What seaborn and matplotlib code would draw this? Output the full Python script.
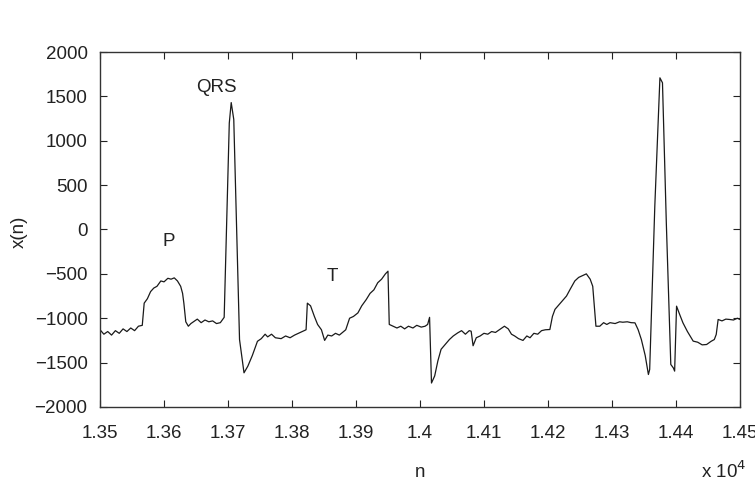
import matplotlib
matplotlib.use("Agg")
import matplotlib.pyplot as plt
import seaborn as sns
import pandas as pd

sns.set_theme(style="white")
plt.rcParams['font.family'] = ['Liberation Sans', 'DejaVu Sans']

# sample index n and signal value x(n)
n_vals = [13500, 13506, 13512, 13518, 13524, 13530, 13536, 13542, 13548, 13554, 13560, 13566,
          13569, 13574, 13579, 13584, 13589, 13595, 13600, 13606, 13611, 13616, 13621, 13626,
          13629, 13631, 13634, 13638, 13642, 13646, 13652, 13658, 13664, 13670, 13676, 13682,
          13688, 13694, 13702, 13705, 13709, 13718, 13725, 13731, 13738, 13746, 13752, 13758,
          13762, 13768, 13774, 13783, 13790, 13797, 13804, 13810, 13816, 13822, 13824, 13829,
          13835, 13840, 13846, 13851, 13856, 13862, 13868, 13874, 13879, 13884, 13890, 13896,
          13903, 13909, 13916, 13922, 13928, 13934, 13940, 13946, 13950, 13952, 13958, 13964,
          13970, 13976, 13982, 13989, 13995, 14002, 14008, 14012, 14015, 14018, 14023, 14028,
          14033, 14040, 14046, 14052, 14059, 14065, 14071, 14077, 14080, 14083, 14088, 14094,
          14100, 14106, 14112, 14118, 14124, 14132, 14138, 14143, 14148, 14154, 14161, 14167,
          14172, 14178, 14184, 14190, 14196, 14203, 14207, 14211, 14217, 14223, 14229, 14235,
          14242, 14248, 14254, 14260, 14266, 14270, 14275, 14281, 14287, 14292, 14297, 14305,
          14312, 14317, 14324, 14330, 14336, 14341, 14346, 14352, 14357, 14359, 14367, 14375,
          14379, 14385, 14392, 14396, 14398, 14401, 14406, 14411, 14418, 14427, 14434, 14441,
          14448, 14455, 14460, 14463, 14466, 14472, 14478, 14484, 14490, 14496, 14500]
x_vals = [-1130, -1180, -1150, -1190, -1140, -1170, -1120, -1150, -1110, -1140, -1090, -1080,
          -830, -780, -700, -660, -640, -580, -590, -550, -560, -545, -580, -640,
          -720, -830, -1040, -1090, -1060, -1040, -1010, -1050, -1020, -1040, -1030, -1060,
          -1050, -990, 1200, 1430, 1240, -1240, -1615, -1540, -1420, -1260, -1230, -1180,
          -1210, -1180, -1220, -1230, -1200, -1220, -1190, -1170, -1150, -1130, -830, -860,
          -980, -1070, -1130, -1250, -1190, -1200, -1170, -1190, -1160, -1130, -1000, -980,
          -940, -860, -790, -720, -680, -600, -560, -500, -470, -1070, -1090, -1110,
          -1090, -1120, -1090, -1110, -1080, -1100, -1090, -1070, -990, -1730, -1650, -1480,
          -1350, -1290, -1240, -1200, -1165, -1140, -1180, -1140, -1146, -1310, -1220, -1200,
          -1170, -1180, -1150, -1160, -1130, -1090, -1120, -1180, -1200, -1230, -1250, -1200,
          -1220, -1170, -1180, -1140, -1130, -1127, -980, -900, -850, -800, -750, -670,
          -580, -540, -520, -500, -560, -640, -1090, -1090, -1050, -1070, -1050, -1060,
          -1040, -1045, -1040, -1050, -1052, -1130, -1240, -1420, -1634, -1577, 260, 1709,
          1653, 75, -1521, -1560, -1596, -864, -960, -1052, -1150, -1258, -1270, -1300,
          -1296, -1260, -1240, -1183, -1014, -1030, -1010, -1014, -1020, -1000, -1014]

xtick_vals = [13500, 13600, 13700, 13800, 13900, 14000, 14100, 14200, 14300, 14400, 14500]
xtick_labels = ["1.35", "1.36", "1.37", "1.38", "1.39", "1.4", "1.41", "1.42", "1.43", "1.44", "1.45"]
ytick_vals = [-2000, -1500, -1000, -500, 0, 500, 1000, 1500, 2000]

wave_labels = ["P", "QRS", "T"]
wave_n = [13608, 13682, 13863]
wave_x = [-135, 1600, -530]

df = pd.DataFrame({"n": n_vals, "x": x_vals})

fig = plt.figure(figsize=(7.55, 4.86), dpi=100)
ax = fig.add_axes([0.1325, 0.1626, 0.8475, 0.7304])
sns.lineplot(data=df, x="n", y="x", sort=False, estimator=None, ax=ax,
             color="#1a1a1a", linewidth=0.9)

ax.set_xlim(13500, 14500)
ax.set_ylim(-2000, 2000)
ax.set_xticks(xtick_vals)
ax.set_xticklabels(xtick_labels)
ax.set_yticks(ytick_vals)
ax.set_yticklabels([str(v).replace("-", "\u2212") for v in ytick_vals])
ax.tick_params(direction="in", length=5, width=0.8, top=True, right=True,
               bottom=True, left=True, labelsize=13.5, colors="#222222")
ax.tick_params(axis="x", pad=13)
ax.tick_params(axis="y", pad=9)
for s in ax.spines.values():
    s.set_visible(True)
    s.set_color("#333333")
    s.set_linewidth(1.0)

ax.set_xlabel("")
ax.set_ylabel("")
fig.text(0.556, 0.018, "n", ha="center", va="baseline", fontsize=13.5, color="#222222")
fig.text(0.025, 0.523, "x(n)", ha="center", va="center", rotation=90,
         fontsize=13.5, color="#222222")
fig.text(0.988, 0.0165, r"x 10$^{4}$", ha="right", va="baseline", fontsize=13.5,
         color="#222222")

for lab, xn, xv in zip(wave_labels, wave_n, wave_x):
    ax.text(xn, xv, lab, ha="center", va="center", fontsize=13.5, color="#222222")

fig.savefig("out.png", dpi=100, facecolor="white")
